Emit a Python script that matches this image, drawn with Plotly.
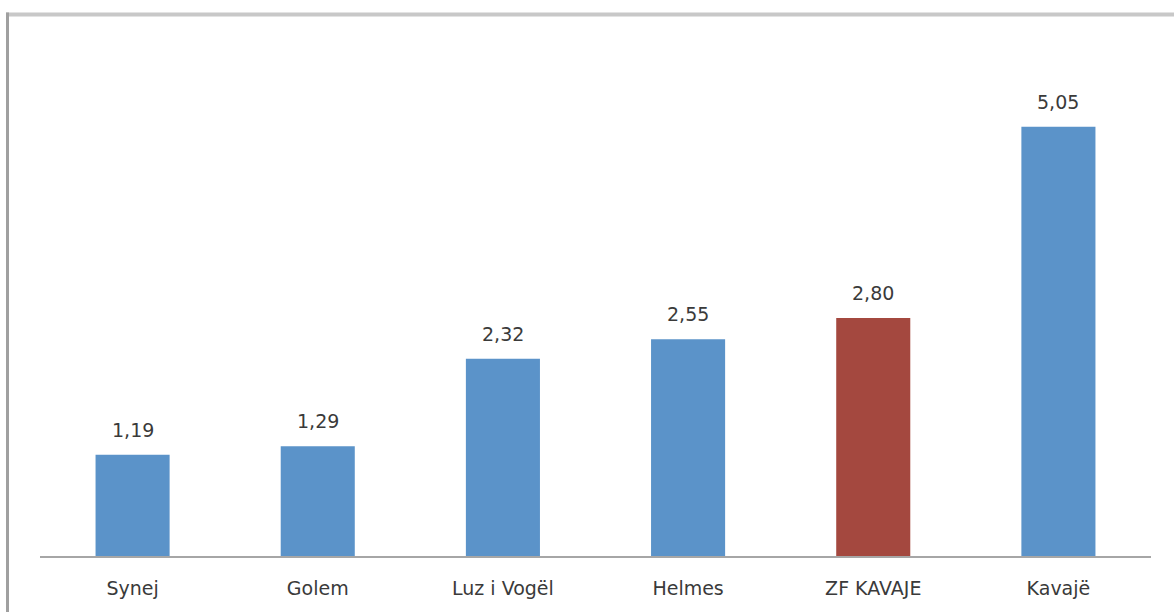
import plotly.graph_objects as go

categories = ["Synej", "Golem", "Luz i Vogël", "Helmes", "ZF KAVAJE", "Kavajë"]
values = [1.19, 1.29, 2.32, 2.55, 2.80, 5.05]
bar_colors = ["#5B93C9", "#5B93C9", "#5B93C9", "#5B93C9", "#A4483F", "#5B93C9"]
value_labels = ["1,19", "1,29", "2,32", "2,55", "2,80", "5,05"]

W, H = 1174, 612
ml, mr, mt, mb = 40, 23, 46, 56
pw, ph = W - ml - mr, H - mt - mb

def px_to_paper_x(px):
    return (px - ml) / pw

def px_to_paper_y(py):
    return (H - mb - py) / ph

fig = go.Figure()
fig.add_trace(go.Bar(
    x=categories, y=values,
    marker=dict(color=bar_colors, line=dict(width=0)),
    width=0.4,
    hoverinfo="skip",
))

font_family = "DejaVu Sans, sans-serif"
for c, v, t in zip(categories, values, value_labels):
    fig.add_annotation(
        x=c, y=v, text=t, showarrow=False,
        yanchor="middle", yshift=25,
        font=dict(family=font_family, size=19, color="#3a3a3a"),
    )

# frame lines (top and left) like the reference's border
fig.add_shape(type="line", xref="paper", yref="paper",
              x0=px_to_paper_x(6), x1=px_to_paper_x(1174),
              y0=px_to_paper_y(14.5), y1=px_to_paper_y(14.5),
              line=dict(color="#C8C8C8", width=4), layer="above")
fig.add_shape(type="line", xref="paper", yref="paper",
              x0=px_to_paper_x(7.5), x1=px_to_paper_x(7.5),
              y0=px_to_paper_y(12.5), y1=px_to_paper_y(612),
              line=dict(color="#A0A0A0", width=3), layer="above")

fig.update_layout(
    width=W, height=H,
    margin=dict(l=ml, r=mr, t=mt, b=mb, pad=0, autoexpand=False),
    paper_bgcolor="white", plot_bgcolor="white",
    showlegend=False,
    bargap=0.6,
    xaxis=dict(
        showline=True, linecolor="#A6A6A6", linewidth=1.5,
        ticks="outside", ticklen=15, tickcolor="rgba(0,0,0,0)",
        tickfont=dict(family=font_family, size=19, color="#3a3a3a"),
        showgrid=False, zeroline=False, fixedrange=True, automargin=False,
    ),
    yaxis=dict(
        range=[0, 6], visible=False, showgrid=False, zeroline=False,
        fixedrange=True, automargin=False,
    ),
)

fig.write_html(
    "out.html",
    config={"displayModeBar": False, "staticPlot": True},
    post_script="document.body.style.margin='0';document.body.style.overflow='hidden';",
)
